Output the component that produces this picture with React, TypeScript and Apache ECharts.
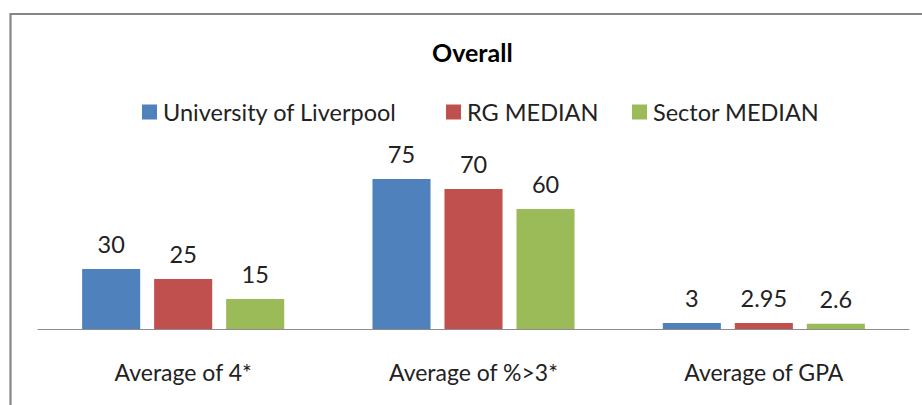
import React, { useEffect, useRef } from "react";
import * as echarts from "echarts";

const categories = ["Average of 4*", "Average of %>3*", "Average of GPA"];
const seriesNames = ["University of Liverpool", "RG MEDIAN", "Sector MEDIAN"];
const liverpool = [30, 75, 3];
const rgMedian = [25, 70, 2.95];
const sectorMedian = [15, 60, 2.6];
const colors = ["#4F81BD", "#C0504D", "#9BBB59"];

const FONT = "Lato";
const legendLefts = [142, 446, 632];

export default function App() {
  const ref = useRef<HTMLDivElement>(null);
  useEffect(() => {
    if (!ref.current) return;
    const chart = echarts.init(ref.current, null, { renderer: "svg" });
    const dataSets = [liverpool, rgMedian, sectorMedian];
    chart.setOption({
      animation: false,
      backgroundColor: "#ffffff",
      title: {
        text: "Overall",
        left: 432,
        top: 39,
        padding: 0,
        textStyle: { fontFamily: FONT, fontSize: 25, fontWeight: "bold", color: "#000" },
      },
      legend: seriesNames.map((name, i) => ({
        top: 100,
        left: legendLefts[i],
        padding: 0,
        itemWidth: 15,
        itemHeight: 15,
        itemGap: 0,
        icon: "rect",
        textStyle: { fontFamily: FONT, fontSize: 23.5, color: "#222", padding: [0, 0, 0, 1] },
        data: [name],
      })),
      grid: { left: 38, right: 13, top: 129, bottom: 76, containLabel: false },
      xAxis: {
        type: "category",
        data: categories,
        axisLine: { show: true, lineStyle: { color: "#8c8c8c", width: 1 } },
        axisTick: { show: false },
        axisLabel: { fontFamily: FONT, fontSize: 23, color: "#222", margin: 31 },
      },
      yAxis: {
        type: "value",
        min: 0,
        max: 100,
        show: false,
        splitLine: { show: false },
      },
      graphic: [
        {
          type: "rect",
          shape: { x: 10.5, y: 14, width: 1000, height: 500 },
          style: { fill: "none", stroke: "#868686", lineWidth: 2.2 },
          silent: true,
        },
      ],
      series: seriesNames.map((name, i) => ({
        name,
        type: "bar",
        data: dataSets[i],
        barWidth: "20%",
        barGap: "24%",
        itemStyle: { color: colors[i] },
        label: {
          show: true,
          position: "top",
          distance: 13,
          fontFamily: FONT,
          fontSize: 23.5,
          color: "#222",
        },
      })),
    });
    return () => chart.dispose();
  }, []);
  return (
    <div
      ref={ref}
      style={{ position: "fixed", left: 0, top: 0, width: 922, height: 405 }}
    />
  );
}
